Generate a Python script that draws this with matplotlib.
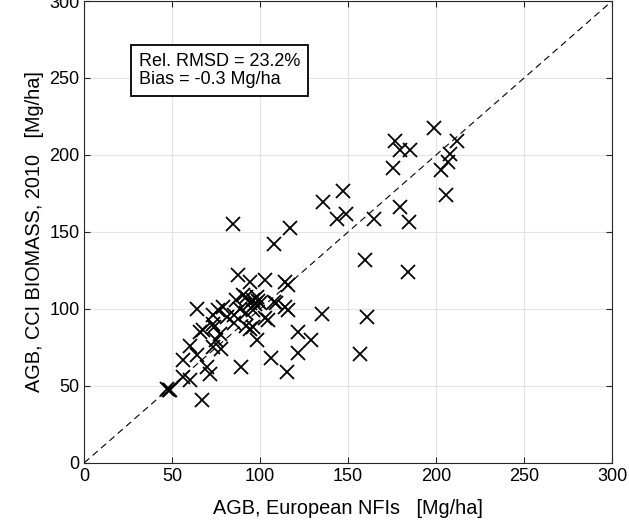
import matplotlib
matplotlib.use("Agg")
import matplotlib.pyplot as plt
import numpy as np

# AGB: European NFI vs CCI BIOMASS 2010
nfi = [47, 48, 49, 67, 56, 56, 60, 60, 64, 66, 64, 69.5, 71.5, 67.5, 73, 73,
       74, 77, 75, 78, 73, 79, 76, 81, 85, 85, 86, 87.5, 88.5, 89, 90, 92,
       92, 94, 94, 96, 97, 98, 99, 100, 96, 92, 94, 96, 98, 103, 104.5, 106,
       103, 108, 109, 114, 116, 116, 114, 115, 121.6, 129, 121.6, 135, 160.5,
       156.7, 84.7, 107.8, 116.9, 135.8, 147.2, 143.8, 149, 164.8, 159.5,
       176.5, 179.4, 185, 175.4, 179.4, 184.7, 184.1, 198.7, 211.6, 207.8,
       206.8, 203, 205.5]
cci = [48, 47, 47.5, 41, 67, 56, 54, 76, 70, 85, 100, 62, 58, 86, 90, 96,
       88, 84, 80, 74, 75, 101, 99, 95, 96, 91, 106, 122, 100, 62, 109, 97,
       108, 117.5, 104, 106, 103, 108, 105, 104, 99, 89, 87, 88, 80, 94, 93,
       68, 119, 104.5, 103.5, 117.5, 115.5, 99, 101, 59, 85, 80, 71.4, 96.5,
       95, 70.5, 155, 142, 152.7, 169.5, 176.4, 158.7, 161.5, 158.7, 132,
       209, 203, 203, 191.5, 166.2, 156.5, 124, 217.8, 209, 200.9, 195.5,
       190, 173.8]

rel_rmsd = 23.2
bias = -0.3

plt.rcParams['font.family'] = ['Liberation Sans', 'DejaVu Sans']

fig = plt.figure(figsize=(6.29, 5.20), dpi=100)
ax = fig.add_axes([0.134, 0.110, 0.839, 0.888])

# линия 1:1
ax.plot([0, 300], [0, 300], '--', color='k', lw=0.8, dashes=(6, 4))
ax.plot(nfi, cci, 'x', color='k', markersize=10, markeredgewidth=1.3)

ax.set_xlim(0, 300)
ax.set_ylim(0, 300)
ax.set_xticks(np.arange(0, 301, 50))
ax.set_yticks(np.arange(0, 301, 50))
ax.grid(True, color='#e3e3e3', lw=0.8)
ax.set_axisbelow(True)
ax.tick_params(direction='in', top=True, right=True, length=4,
               labelsize=13, color='#262626', width=0.8)
for s in ax.spines.values():
    s.set_color('#262626')
    s.set_linewidth(0.8)

ax.set_xlabel("AGB, European NFIs   [Mg/ha]", fontsize=14.3, labelpad=10)
ax.set_ylabel("AGB, CCI BIOMASS, 2010   [Mg/ha]", fontsize=14.3)
ax.yaxis.set_label_coords(-0.076, 0.5)

ax.text(31, 255, "Rel. RMSD = {:.1f}%\nBias = {:.1f} Mg/ha".format(rel_rmsd, bias),
        fontsize=13, va='center', ha='left', linespacing=1.1,
        bbox=dict(boxstyle='square,pad=0.45', facecolor='white',
                  edgecolor='k', lw=1.3))

fig.savefig("out.png", dpi=100)
